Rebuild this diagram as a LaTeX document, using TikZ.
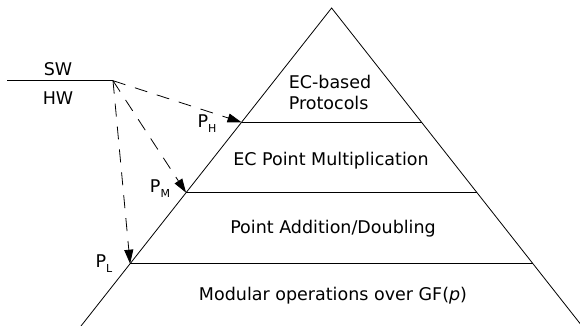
\documentclass[tikz,border=0pt]{standalone}
\usepackage{fontspec}
\setmainfont{DejaVu Sans}
\usetikzlibrary{arrows.meta,calc}
\tikzset{
	txt/.style={font=\fontsize{17.5}{21}\selectfont, inner sep=0pt, align=left},
	lbl/.style={font=\fontsize{17.5}{21}\selectfont, inner sep=0pt},
	ptr/.style={dash pattern=on 13pt off 10pt, -{Triangle[length=14pt,width=9pt]}}
}
\newcommand{\lvl}[1]{P\raisebox{-5pt}{\fontsize{11}{11}\selectfont #1}}
\begin{document}
\begin{tikzpicture}[x=1pt,y=-1pt,line width=0.8pt]
		\useasboundingbox (0,0) rectangle (580,326);
			\coordinate (Top) at (331.6,8);
			\coordinate (Bl) at (81,326);
			\coordinate (Br) at (582,326);
			\draw (Bl) -- (Top) -- (Br);
			\coordinate (Hl) at ($(Top)!0.3594!(Bl)$);
			\coordinate (Hr) at ($(Top)!0.3594!(Br)$);
			\coordinate (Ml) at ($(Top)!0.5808!(Bl)$);
			\coordinate (Mr) at ($(Top)!0.5808!(Br)$);
			\coordinate (Ll) at ($(Top)!0.8041!(Bl)$);
			\coordinate (Lr) at ($(Top)!0.8041!(Br)$);
			\draw (Hl) -- (Hr);
			\draw (Ml) -- (Mr);
			\draw (Ll) -- (Lr);
			\node (Pr) at (330,92)  [txt] {EC-based\\Protocols};
			\node (Mu) at (331,161) [txt] {EC Point Multiplication};
			\node (Ad) at (333,229) [txt] {Point Addition/Doubling};
			\node (Mo) at (333,296) [txt] {Modular operations over GF(\textit{p})};
			\coordinate (Wl) at (7,80.7);
			\coordinate (Sp) at (113,80.7);
			\draw (Wl) -- (Sp);
			\node (Sw) at (58,69)  [lbl] {SW};
			\node (Hw) at (58,98)  [lbl] {HW};
			\node (Ph) at (207,124) [lbl] {\lvl{H}};
			\node (Pm) at (160,189) [lbl] {\lvl{M}};
			\node (Pl) at (104,264) [lbl] {\lvl{L}};
			\draw[ptr] (Sp) -- (Hl);
			\draw[ptr] (Sp) -- (Ml);
			\draw[ptr] (Sp) -- (Ll);
		\end{tikzpicture}
\end{document}
